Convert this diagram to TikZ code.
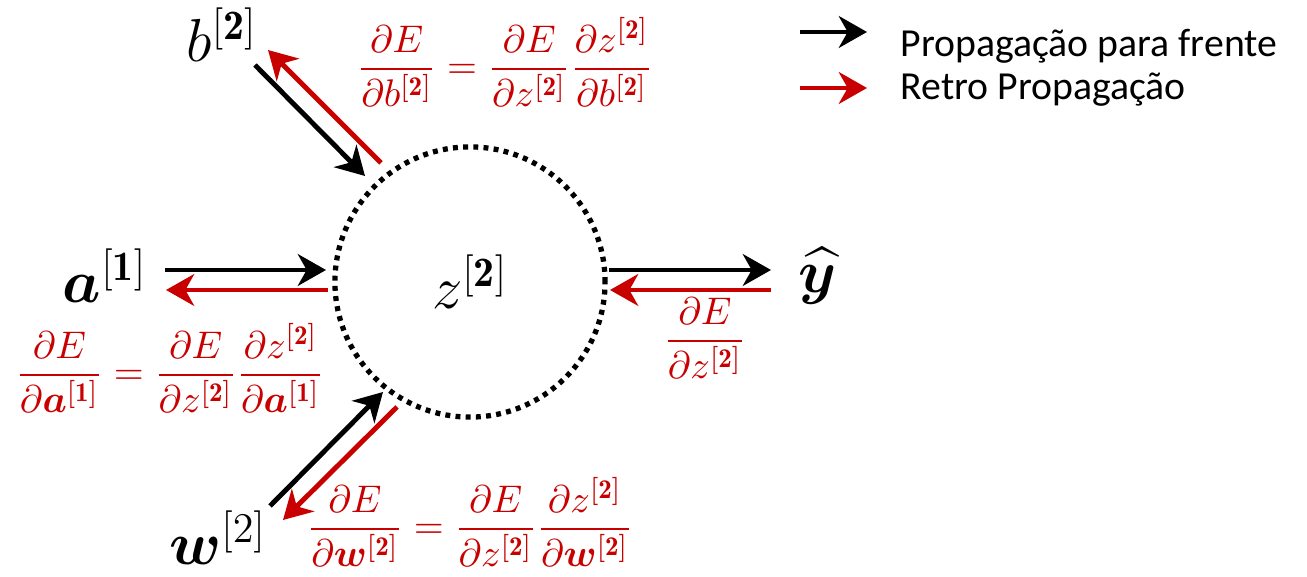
\documentclass[tikz,border=0pt]{standalone}
\usepackage{amsmath,bm}
\usepackage{fontspec}
\newfontfamily\legendfont{Carlito}
\usetikzlibrary{arrows.meta}
\definecolor{backred}{RGB}{200,0,0}

\begin{document}
\begin{tikzpicture}
[
	x=0.01cm,y=-0.01cm,
	fwd/.style={-{Stealth[length=8pt,width=9pt,inset=2.5pt]},line width=1.4pt,black},
	back/.style={-{Stealth[length=8pt,width=9pt,inset=2.5pt]},line width=1.4pt,backred},
	var/.style={font=\fontsize{17}{20}\selectfont},
	grad/.style={text=backred,font=\fontsize{11}{13}\selectfont},
	legend/.style={anchor=base west,inner sep=0pt,font=\legendfont\fontsize{11.3}{13}\selectfont},
	neuron/.style={circle,draw,line width=1.5pt,dash pattern=on 1.4pt off 1.5pt,minimum size=2.7cm,font=\fontsize{17}{20}\selectfont}
]
	\useasboundingbox (0,0) rectangle (1307,577);

	% neuron
	\node[neuron] (z) at (470,282) {$z^{[\mathbf{2}]}$};

	% inputs and output
	\node[var] (b) at (222,35) {$b^{[\mathbf{2}]}$};
	\node[var] (a) at (105,276) {$\boldsymbol{a}^{[\mathbf{1}]}$};
	\node[var] (w) at (218,538) {$\boldsymbol{w}^{[2]}$};
	\node[var] (yhat) at (818,276) {$\widehat{\boldsymbol{y}}$};

	% arrows b
	\coordinate (b1) at (255,65);
	\coordinate (b2) at (365,176);
	\coordinate (b3) at (381,163);
	\coordinate (b4) at (268,50);
	\draw[fwd] (b1) -- (b2);
	\draw[back] (b3) -- (b4);

	% arrows a
	\coordinate (a1) at (165,270);
	\coordinate (a2) at (326,270);
	\coordinate (a3) at (328,290);
	\coordinate (a4) at (166,290);
	\draw[fwd] (a1) -- (a2);
	\draw[back] (a3) -- (a4);

	% arrows w
	\coordinate (w1) at (270,506);
	\coordinate (w2) at (383,392);
	\coordinate (w3) at (397,407);
	\coordinate (w4) at (283,520);
	\draw[fwd] (w1) -- (w2);
	\draw[back] (w3) -- (w4);

	% arrows yhat
	\coordinate (y1) at (609,270);
	\coordinate (y2) at (771,270);
	\coordinate (y3) at (771,290);
	\coordinate (y4) at (610,290);
	\draw[fwd] (y1) -- (y2);
	\draw[back] (y3) -- (y4);

	% gradients
	\node[grad] (gb) at (505,62) {$\displaystyle\frac{\partial E}{\partial b^{[\mathbf{2}]}}=\frac{\partial E}{\partial z^{[\mathbf{2}]}}\frac{\partial z^{[\mathbf{2}]}}{\partial b^{[\mathbf{2}]}}$};
	\node[grad] (ga) at (170,368) {$\displaystyle\frac{\partial E}{\partial \boldsymbol{a}^{[\mathbf{1}]}}=\frac{\partial E}{\partial z^{[\mathbf{2}]}}\frac{\partial z^{[\mathbf{2}]}}{\partial \boldsymbol{a}^{[\mathbf{1}]}}$};
	\node[grad] (gw) at (470,522) {$\displaystyle\frac{\partial E}{\partial \boldsymbol{w}^{[\mathbf{2}]}}=\frac{\partial E}{\partial z^{[\mathbf{2}]}}\frac{\partial z^{[\mathbf{2}]}}{\partial \boldsymbol{w}^{[\mathbf{2}]}}$};
	\node[grad] (gz) at (705,338) {$\displaystyle\frac{\partial E}{\partial z^{[\mathbf{2}]}}$};

	% legend
	\coordinate (l1) at (800,32);
	\coordinate (l2) at (867,32);
	\coordinate (l3) at (800,88);
	\coordinate (l4) at (867,88);
	\draw[fwd] (l1) -- (l2);
	\draw[back] (l3) -- (l4);
	\node[legend] (lfwd) at (900,57) {Propagação para frente};
	\node[legend] (lback) at (900,100) {Retro Propagação};

\end{tikzpicture}
\end{document}
